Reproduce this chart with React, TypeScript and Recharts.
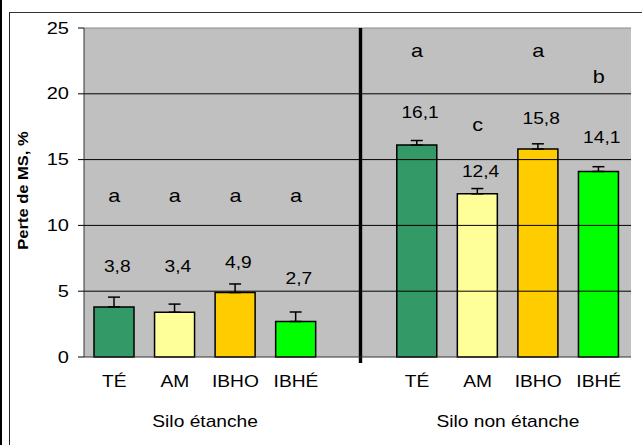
import React from 'react';
import {
  ComposedChart,
  Bar,
  Cell,
  XAxis,
  YAxis,
  CartesianGrid,
  ErrorBar,
  ReferenceLine,
  ReferenceArea,
  Scatter,
} from 'recharts';

// Treatments and silo groups
const treatments = ['TÉ', 'AM', 'IBHO', 'IBHÉ'];
const groupNames = ['Silo étanche', 'Silo non étanche'];

// Dry-matter loss (%) per treatment
const lossSealed = [3.8, 3.4, 4.9, 2.7];
const lossUnsealed = [16.1, 12.4, 15.8, 14.1];

// Standard errors (upper whisker only)
const seSealed = [0.75, 0.62, 0.65, 0.72];
const seUnsealed = [0.35, 0.4, 0.4, 0.36];

// Significance letters
const lettersSealed = ['a', 'a', 'a', 'a'];
const lettersUnsealed = ['a', 'c', 'a', 'b'];

// Levels (in % units) at which the value tags and letters are written
const valueTagSealed = [6.85, 6.85, 7.17, 5.97];
const valueTagUnsealed = [18.6, 14.1, 18.16, 16.68];
const letterBaseSealed = [11.78, 11.78, 11.78, 11.78];
const letterBaseUnsealed = [22.77, 17.2, 22.77, 20.84];

const yTicks = [0, 5, 10, 15, 20, 25];
const gridLevels = [5, 10, 15, 20];
const treatmentColors = ['#339966', '#FFFF99', '#FFCC00', '#00FF00'];

const FONT = '"Liberation Sans", Arial, sans-serif';
const SX = 1.2;

type Row = {
  key: string;
  name: string;
  value: number | null;
  err: number[] | null;
  letter: string;
  valueAt: number | null;
  letterAt: number | null;
  color: string;
};

const rows: Row[] = [];
treatments.forEach((t, i) =>
  rows.push({
    key: 's' + i,
    name: t,
    value: lossSealed[i],
    err: [0, seSealed[i]],
    letter: lettersSealed[i],
    valueAt: valueTagSealed[i],
    letterAt: letterBaseSealed[i],
    color: treatmentColors[i],
  })
);
rows.push({ key: 'gap', name: '', value: null, err: null, letter: '', valueAt: null, letterAt: null, color: 'none' });
treatments.forEach((t, i) =>
  rows.push({
    key: 'u' + i,
    name: t,
    value: lossUnsealed[i],
    err: [0, seUnsealed[i]],
    letter: lettersUnsealed[i],
    valueAt: valueTagUnsealed[i],
    letterAt: letterBaseUnsealed[i],
    color: treatmentColors[i],
  })
);

const nameByKey: Record<string, string> = {};
rows.forEach((r) => (nameByKey[r.key] = r.name));

const fmt = (v: number) => v.toFixed(1).replace('.', ',');

function StretchText(props: {
  x: number;
  y: number;
  anchor?: 'start' | 'middle' | 'end';
  size?: number;
  weight?: string;
  dy?: string | number;
  rotate?: number;
  sx?: number;
  children: React.ReactNode;
}) {
  const { x, y, anchor = 'middle', size = 16, weight = 'normal', dy, rotate, sx = SX, children } = props;
  const rot = rotate ? ` rotate(${rotate})` : '';
  return (
    <g transform={`translate(${x},${y})${rot} scale(${sx},1)`}>
      <text x={0} y={0} dy={dy} textAnchor={anchor} fontSize={size} fontWeight={weight} fontFamily={FONT} fill="#000">
        {children}
      </text>
    </g>
  );
}

const YTick = (p: any) => (
  <StretchText x={p.x} y={p.y} anchor="end" size={16} sx={1.25} dy="0.35em">
    {p.payload.value}
  </StretchText>
);

const XTick = (p: any) => {
  const label = nameByKey[p.payload.value];
  if (!label) return null;
  return (
    <StretchText x={p.x} y={p.y + 30} size={16}>
      {label}
    </StretchText>
  );
};

const ValueTag = (p: any) => {
  const row: Row = p.payload;
  if (!row || row.value == null || row.valueAt == null) return null;
  return (
    <StretchText x={p.cx + 3} y={p.cy} size={16} dy="0.35em">
      {fmt(row.value)}
    </StretchText>
  );
};

const LetterTag = (p: any) => {
  const row: Row = p.payload;
  if (!row || !row.letter || row.letterAt == null) return null;
  return (
    <StretchText x={p.cx} y={p.cy} size={18}>
      {row.letter}
    </StretchText>
  );
};

const GroupLabel = (text: string) => (p: any) => {
  const vb = p.viewBox;
  return (
    <StretchText x={vb.x + vb.width / 2} y={vb.y + vb.height + 70} size={16}>
      {text}
    </StretchText>
  );
};

const YTitle = (p: any) => {
  const vb = p.viewBox;
  return (
    <StretchText x={vb.x + 4} y={vb.y + vb.height / 2 - 2} size={14} weight="bold" rotate={-90} sx={1.18}>
      Perte de MS, %
    </StretchText>
  );
};

const Divider = (p: any) => {
  const top = Math.min(p.y1, p.y2);
  const bottom = Math.max(p.y1, p.y2);
  return <line x1={p.x1 + 4} y1={top} x2={p.x2 + 4} y2={bottom + 6} stroke="#000" strokeWidth={3.4} />;
};

export default function App() {
  return (
    <div style={{ position: 'absolute', left: 0, top: 0, width: 642, height: 445, background: '#fff', overflow: 'hidden' }}>
      <div style={{ position: 'absolute', left: 0, top: 0, width: 2, height: 445, background: '#000' }} />
      <div
        style={{
          position: 'absolute',
          left: 9,
          top: 12,
          width: 700,
          height: 500,
          borderLeft: '1px solid #222',
          borderTop: '1px solid #333',
        }}
      />
      <div style={{ position: 'absolute', left: 0, top: 0 }}>
        <ComposedChart
          width={642}
          height={445}
          data={rows}
          margin={{ top: 28, right: 11, bottom: 0, left: 24 }}
        >
          <CartesianGrid horizontal={false} vertical={false} fill="#C0C0C0" />
          {gridLevels.map((g) => (
            <ReferenceLine key={g} y={g} stroke="#000" strokeWidth={1} />
          ))}
          <ReferenceLine y={25} stroke="#8a8a8a" strokeWidth={1} />
          <XAxis
            dataKey="key"
            height={88}
            padding={{ left: 0, right: 2 }}
            tickLine={false}
            tickSize={0}
            tickMargin={0}
            interval={0}
            axisLine={{ stroke: '#333', strokeWidth: 1 }}
            tick={<XTick />}
          />
          <YAxis
            width={60}
            domain={[0, 25]}
            ticks={yTicks}
            interval={0}
            tickSize={6}
            tickMargin={9}
            tickLine={{ stroke: '#000' }}
            axisLine={{ stroke: '#333' }}
            tick={<YTick />}
            label={{ content: <YTitle /> }}
          />
          <YAxis yAxisId="edge" orientation="right" width={0} domain={[0, 25]} tick={false} tickLine={false} axisLine={{ stroke: '#8a8a8a' }} />
          <ReferenceArea
            x1="s0"
            x2="s3"
            y1={0}
            y2={25}
            fill="none"
            fillOpacity={0}
            strokeOpacity={0}
            ifOverflow="visible"
            label={{ content: GroupLabel(groupNames[0]) }}
          />
          <ReferenceArea
            x1="u0"
            x2="u3"
            y1={0}
            y2={25}
            fill="none"
            fillOpacity={0}
            strokeOpacity={0}
            ifOverflow="visible"
            label={{ content: GroupLabel(groupNames[1]) }}
          />
          <Bar dataKey="value" barSize={40} stroke="#000" strokeWidth={1.5} isAnimationActive={false}>
            {rows.map((r) => (
              <Cell key={r.key} fill={r.color} />
            ))}
            <ErrorBar dataKey="err" width={6} stroke="#000" strokeWidth={1.5} direction="y" isAnimationActive={false} />
          </Bar>
          <ReferenceLine x="gap" ifOverflow="visible" shape={<Divider />} />
          <Scatter dataKey="valueAt" shape={<ValueTag />} isAnimationActive={false} />
          <Scatter dataKey="letterAt" shape={<LetterTag />} isAnimationActive={false} />
        </ComposedChart>
      </div>
    </div>
  );
}
